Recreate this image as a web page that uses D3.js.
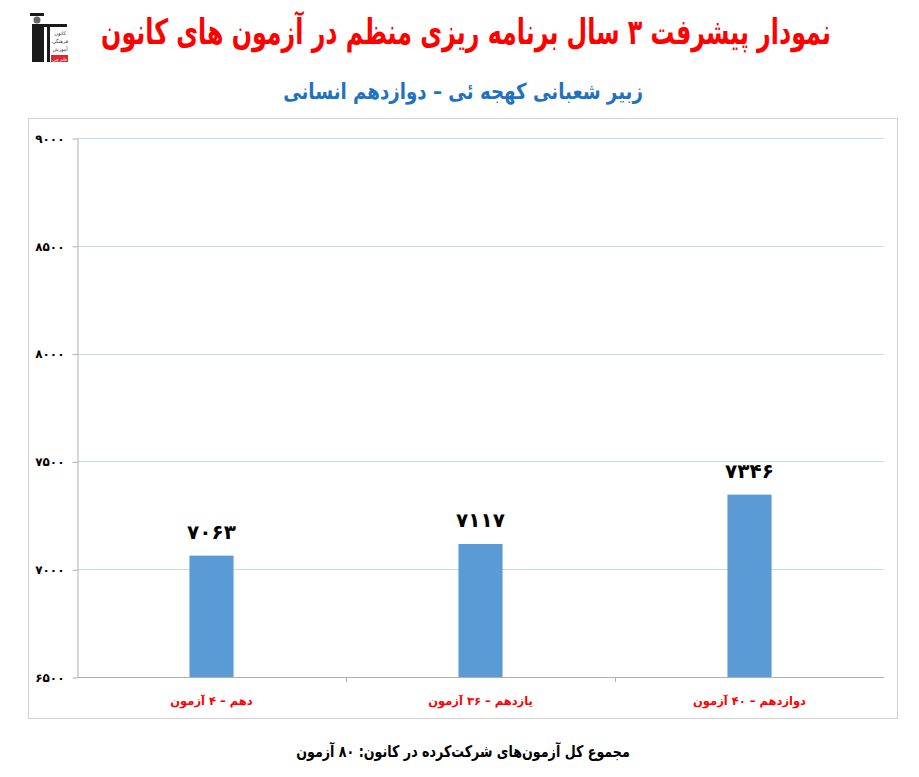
<!DOCTYPE html>
<html>
<head>
<meta charset="utf-8">
<script src="https://cdn.jsdelivr.net/npm/d3@7"></script>
<style>
  body { margin: 0; background: #fff; }
  text { font-family: "DejaVu Sans", sans-serif; }
</style>
</head>
<body>
<div id="chart"></div>
<script>
// data
const categories = ['دهم – ۴ آزمون', 'یازدهم – ۳۶ آزمون', 'دوازدهم – ۴۰ آزمون'];
const scores = [7063, 7117, 7346];
const yTicks = [6500, 7000, 7500, 8000, 8500, 9000];

const title = 'نمودار پیشرفت ۳ سال برنامه ریزی منظم در آزمون های کانون';
const subtitle = 'زبیر شعبانی کهجه ئی – دوازدهم انسانی';
const footer = 'مجموع کل آزمون‌های شرکت‌کرده در کانون: ۸۰ آزمون';

const faDigits = '۰۱۲۳۴۵۶۷۸۹';
const fa = v => String(v).replace(/\d/g, d => faDigits[+d]);

const width = 919, height = 777;
const plot = { left: 77, right: 884, top: 138, bottom: 677 };

const svg = d3.select('#chart').append('svg')
    .attr('width', width)
    .attr('height', height);

// squeeze a centred text horizontally to a target width
function fitText(sel, cx, cy, target) {
    const w = sel.node().getComputedTextLength();
    const k = Math.min(1, target / w);
    sel.attr('x', 0).attr('y', 0)
        .attr('transform', `translate(${cx},${cy}) scale(${k},1)`);
}

// logo (rough)
const logo = svg.append('g').attr('transform', 'translate(30,10)');
logo.append('rect').attr('x', 0).attr('y', 3).attr('width', 14).attr('height', 3).attr('fill', '#1a1a1a');
logo.append('circle').attr('cx', 7).attr('cy', 10).attr('r', 3.5).attr('fill', '#666');
logo.append('rect').attr('x', 2).attr('y', 14).attr('width', 12).attr('height', 38).attr('fill', '#1a1a1a');
logo.append('rect').attr('x', 12).attr('y', 14).attr('width', 25).attr('height', 3).attr('fill', '#1a1a1a');
logo.append('rect').attr('x', 17).attr('y', 17).attr('width', 3).attr('height', 35).attr('fill', '#1a1a1a');
['کانون', 'فرهنگی', 'آموزش'].forEach((t, i) => {
    logo.append('text').attr('x', 30).attr('y', 25 + i * 8)
        .attr('text-anchor', 'middle').attr('font-size', 5).attr('fill', '#333').text(t);
});
logo.append('rect').attr('x', 21).attr('y', 45).attr('width', 17).attr('height', 7).attr('fill', '#e0262b');
logo.append('text').attr('x', 29.5).attr('y', 50.5).attr('text-anchor', 'middle')
    .attr('font-size', 4.5).attr('fill', '#fff').text('قلم چی');

// titles
const titleText = svg.append('text')
    .attr('text-anchor', 'middle').attr('direction', 'rtl')
    .attr('font-size', 35).attr('font-weight', 'bold').attr('fill', '#ff0000')
    .text(title);
fitText(titleText, 466, 44, 730);

const subText = svg.append('text')
    .attr('text-anchor', 'middle').attr('direction', 'rtl')
    .attr('font-size', 22).attr('font-weight', 'bold').attr('fill', '#1f72c0')
    .text(subtitle);
fitText(subText, 463, 99, 360);

// chart frame
svg.append('rect')
    .attr('x', 28.5).attr('y', 118.5)
    .attr('width', 869).attr('height', 600)
    .attr('fill', 'none').attr('stroke', '#d0d0d0');

// scales
const y = d3.scaleLinear()
    .domain([6500, 9000])
    .range([plot.bottom, plot.top]);

const x = d3.scaleBand()
    .domain(categories)
    .range([plot.left, plot.right]);

const barWidth = x.bandwidth() * 0.164;

// grid
svg.append('g')
    .selectAll('line')
    .data(yTicks.slice(1))
    .enter().append('line')
    .attr('x1', plot.left).attr('x2', plot.right)
    .attr('y1', d => Math.round(y(d)) + 0.5)
    .attr('y2', d => Math.round(y(d)) + 0.5)
    .attr('stroke', '#c6d9f0');

// y axis
const yAxis = svg.append('g')
    .attr('transform', `translate(${plot.left + 0.5},0.5)`)
    .call(d3.axisLeft(y).tickValues(yTicks).tickSize(5).tickSizeOuter(0).tickFormat(fa));
yAxis.select('.domain').attr('stroke', '#b0b0b0');
yAxis.selectAll('.tick line').attr('stroke', '#b0b0b0');
yAxis.selectAll('.tick text')
    .attr('x', -13)
    .attr('font-size', 12).attr('font-weight', 'bold').attr('fill', '#000')
    .style('font-family', '"DejaVu Sans", sans-serif');

// x axis
const xAxis = svg.append('g');
xAxis.append('line')
    .attr('x1', plot.left).attr('x2', plot.right)
    .attr('y1', plot.bottom + 0.5).attr('y2', plot.bottom + 0.5)
    .attr('stroke', '#b0b0b0');
xAxis.selectAll('.xtick')
    .data(categories.slice(1))
    .enter().append('line')
    .attr('class', 'xtick')
    .attr('x1', d => Math.round(x(d)) + 0.5).attr('x2', d => Math.round(x(d)) + 0.5)
    .attr('y1', plot.bottom).attr('y2', plot.bottom + 5)
    .attr('stroke', '#b0b0b0');
xAxis.selectAll('.xlabel')
    .data(categories)
    .enter().append('text')
    .attr('class', 'xlabel')
    .attr('x', d => x(d) + x.bandwidth() / 2)
    .attr('y', 705)
    .attr('text-anchor', 'middle').attr('direction', 'rtl')
    .attr('font-size', 11.5).attr('font-weight', 'bold').attr('fill', '#ff0000')
    .text(d => d);

// bars
const bar = svg.selectAll('.bar')
    .data(categories.map((c, i) => ({ cat: c, value: scores[i] })))
    .enter().append('g')
    .attr('class', 'bar');

bar.append('rect')
    .attr('x', d => x(d.cat) + (x.bandwidth() - barWidth) / 2)
    .attr('y', d => y(d.value))
    .attr('width', barWidth)
    .attr('height', d => plot.bottom - y(d.value))
    .attr('fill', '#5b9bd5');

bar.append('text')
    .attr('x', d => x(d.cat) + x.bandwidth() / 2)
    .attr('y', d => y(d.value) - 17)
    .attr('text-anchor', 'middle')
    .attr('font-size', 20).attr('font-weight', 'bold').attr('fill', '#000')
    .text(d => fa(d.value));

// footer
const footText = svg.append('text')
    .attr('text-anchor', 'middle').attr('direction', 'rtl')
    .attr('font-size', 16).attr('font-weight', 'bold').attr('fill', '#000')
    .text(footer);
fitText(footText, 463, 757, 334);
</script>
</body>
</html>
